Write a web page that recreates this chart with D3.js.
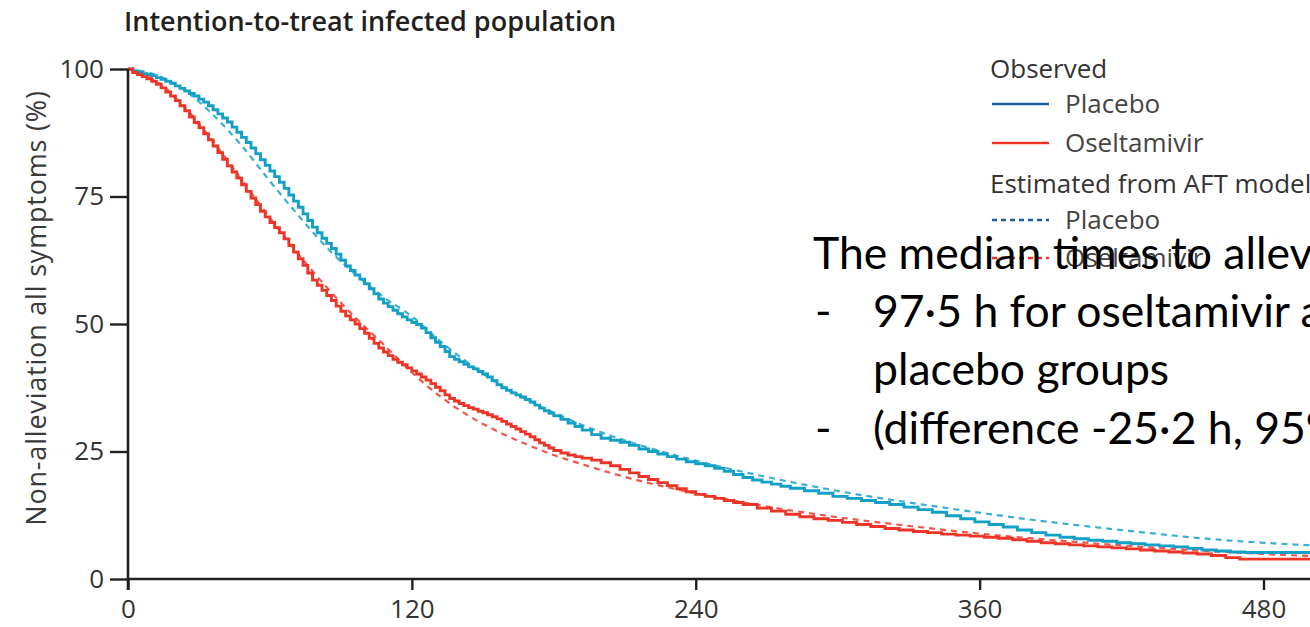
<!DOCTYPE html>
<html><head><meta charset="utf-8">
<script src="https://cdn.jsdelivr.net/npm/d3@7"></script>
<style>
html,body{margin:0;padding:0;background:#fff;overflow:hidden;}
svg{display:block;}
</style></head>
<body>
<svg id="chart" width="1310" height="627"></svg>
<script>
// ---- data (hours, % not alleviated) ----
const xTicks = [0, 120, 240, 360, 480];
const yTicks = [0, 25, 50, 75, 100];

const placeboObsH = [0,2,4,6,8,10,12,14,16,18,20,22,24,26,28,30,32,34,36,38,40,42,44,46,48,50,52,54,56,58,60,62,64,66,68,70,72,74,76,78,80,82,84,86,88,90,92,94,96,98,100,102,104,106,108,110,112,114,116,118,120,122,124,126,128,130,132,134,136,138,140,142,144,146,148,150,152,154,156,158,160,162,164,166,168,170,172,174,176,178,180,183,186,189,192,196,200,204,208,212,216,220,224,228,232,236,240,244,248,252,256,260,264,268,272,276,280,286,292,298,304,310,316,322,328,334,340,346,352,358,364,370,376,382,388,394,400,406,412,418,424,430,436,442,448,454,460,466,472,480,500];
const placeboObsV = [100,99.6,99.3,99.1,98.9,98.7,98.3,98.0,97.6,97.2,96.7,96.2,95.7,95.2,94.7,94.1,93.5,92.8,92.0,91.2,90.4,89.6,88.6,87.6,86.6,85.6,84.5,83.4,82.2,81.1,80.0,78.9,77.8,76.6,75.3,74.1,72.9,71.6,70.3,69.0,67.9,66.8,65.8,64.8,63.7,62.5,61.4,60.5,59.6,58.8,57.9,56.9,55.9,54.9,54.1,53.4,52.7,52.0,51.4,50.8,50.3,49.9,49.2,48.3,47.3,46.4,45.6,44.6,43.6,43.1,42.6,42.1,41.6,41.2,40.7,40.2,39.6,38.9,38.1,37.5,37.0,36.5,36.1,35.7,35.2,34.7,34.1,33.5,33.0,32.5,32.0,31.3,30.6,29.9,29.2,28.3,27.6,27.2,26.8,26.2,25.5,25.0,24.5,24.0,23.5,23.0,22.6,22.2,21.7,21.1,20.5,19.9,19.4,19.0,18.6,18.2,17.8,17.3,16.8,16.2,15.8,15.4,15.0,14.6,14.1,13.6,13.1,12.4,11.8,11.2,10.7,10.2,9.6,9.1,8.6,8.2,7.9,7.6,7.4,7.1,6.9,6.7,6.5,6.3,6.0,5.7,5.5,5.3,5.2,5.2,5.1];

const oseltObsH = [0,2,4,6,8,10,12,14,16,18,20,22,24,26,28,30,32,34,36,38,40,42,44,46,48,50,52,54,56,58,60,62,64,66,68,70,72,74,76,78,80,82,84,86,88,90,92,94,96,98,100,102,104,106,108,110,112,114,116,118,120,122,124,126,128,130,132,134,136,138,140,142,144,146,148,150,152,154,156,158,160,162,164,166,168,170,172,174,176,178,180,183,186,189,192,196,200,204,208,212,216,220,224,228,232,236,240,244,248,252,256,260,266,272,278,284,290,296,302,308,314,320,326,332,338,344,350,356,362,368,374,380,386,392,398,404,410,416,422,428,434,440,446,452,458,464,470,480,500];
const oseltObsV = [100,99.3,98.9,98.5,98.1,97.6,97.0,96.3,95.5,94.7,93.8,92.8,91.8,90.6,89.5,88.5,87.3,86.1,84.9,83.6,82.3,81.0,79.8,78.6,77.3,76.0,74.7,73.4,72.1,71.0,69.9,68.9,67.9,66.7,65.4,64.1,62.8,61.5,60.0,58.6,57.6,56.6,55.6,54.6,53.5,52.5,51.6,50.8,50.0,49.1,48.2,47.2,46.2,45.3,44.5,43.8,43.1,42.5,42.0,41.4,40.8,40.2,39.6,39.0,38.3,37.6,36.9,36.1,35.4,34.9,34.4,34.0,33.6,33.3,32.9,32.6,32.2,31.8,31.4,30.9,30.4,29.9,29.4,28.9,28.4,27.9,27.3,26.7,26.2,25.7,25.2,24.7,24.3,24.0,23.7,23.3,22.8,22.2,21.5,20.8,20.1,19.5,18.9,18.3,17.7,17.1,16.6,16.2,15.8,15.4,15.0,14.6,13.9,13.3,12.7,12.2,11.8,11.5,11.1,10.7,10.3,9.9,9.6,9.3,9.1,8.8,8.6,8.4,8.2,8.0,7.7,7.4,7.1,6.9,6.7,6.5,6.3,6.1,5.9,5.7,5.5,5.3,5.1,4.9,4.6,4.2,3.9,3.9,3.8];

const aftH = [0,12,24,36,48,60,72,84,96,108,120,132,144,156,168,180,192,204,216,240,264,288,312,336,360,384,408,432,456,480,500];
const placeboAftV = [100,98.8,95.8,91.0,85.0,78.0,71.3,65.0,59.8,55.3,51.5,46.6,42.3,38.4,35.3,32.6,30.2,28.1,26.3,23.2,20.6,18.3,16.3,14.6,13.0,11.5,10.2,9.0,7.9,7.1,6.6];
const oseltAftV = [100,97.6,92.5,85.8,78.3,70.8,63.7,57.2,51.3,46.0,40.5,35.8,32.0,29.0,26.5,24.3,22.5,20.8,19.3,16.8,14.7,12.9,11.4,10.1,8.9,7.9,7.0,6.2,5.5,4.9,4.5];

const legendGroups = ["Observed", "Estimated from AFT model"];
const legendSeries = ["Placebo", "Oseltamivir"];
const noteLines = [
  "The median times to alleviation of all symptoms were",
  "97·5 h for oseltamivir and 122·7 h for the",
  "placebo groups",
  "(difference -25·2 h, 95% CI -36·2 to -16·0)"
];
const noteBullets = ["", "-", "", "-"];

// ---- drawing ----
const svg = d3.select("#chart");
const ink = "#231f20";
const cPlacebo = "#12a0c6", cOselt = "#ee3427";
const cLegPlacebo = "#1c5fa6";
const chartFont = "'Open Sans', 'Noto Sans', sans-serif";

const x = d3.scaleLinear().domain([0, 500]).range([128, 128 + 500 * (1135.5 / 480)]);
const y = d3.scaleLinear().domain([0, 100]).range([579, 69]);

// title
svg.append("text").attr("x", 124).attr("y", 31)
  .attr("font-family", chartFont).attr("font-weight", 600).attr("font-size", 27)
  .attr("fill", ink).text("Intention-to-treat infected population");

// y label
svg.append("text").attr("transform", "translate(46,308) rotate(-90)")
  .attr("text-anchor", "middle").attr("font-family", chartFont)
  .attr("font-size", 27).attr("letter-spacing", 0.8).attr("fill", "#3a3a3a")
  .text("Non-alleviation all symptoms (%)");

// curves
const zip = (hs, vs) => hs.map((h, i) => [h, vs[i]]);
const stepLine = d3.line().x(d => x(d[0])).y(d => y(d[1])).curve(d3.curveStepAfter);
const smoothLine = d3.line().x(d => x(d[0])).y(d => y(d[1])).curve(d3.curveMonotoneX);

const plot = svg.append("g");
plot.append("path").datum(zip(aftH, placeboAftV)).attr("d", smoothLine)
  .attr("fill", "none").attr("stroke", "#3aaed0").attr("stroke-width", 2.2).attr("stroke-dasharray", "6,5");
plot.append("path").datum(zip(aftH, oseltAftV)).attr("d", smoothLine)
  .attr("fill", "none").attr("stroke", "#f0574c").attr("stroke-width", 2.2).attr("stroke-dasharray", "6,5");
plot.append("path").datum(zip(placeboObsH, placeboObsV)).attr("d", stepLine)
  .attr("fill", "none").attr("stroke", cPlacebo).attr("stroke-width", 2.9);
plot.append("path").datum(zip(oseltObsH, oseltObsV)).attr("d", stepLine)
  .attr("fill", "none").attr("stroke", cOselt).attr("stroke-width", 2.9);

// axes
const yAxis = d3.axisLeft(y).tickValues(yTicks).tickSize(18).tickPadding(6).tickSizeOuter(0);
const gy = svg.append("g").attr("transform", `translate(${x(0)},0)`).call(yAxis);
const xAxis = d3.axisBottom(x).tickValues(xTicks).tickSize(11).tickPadding(10).tickSizeOuter(0);
const gx = svg.append("g").attr("transform", `translate(0,${y(0)})`).call(xAxis);
[gy, gx].forEach(g => {
  g.select(".domain").attr("stroke", ink).attr("stroke-width", 2.6);
  g.selectAll(".tick line").attr("stroke", ink).attr("stroke-width", 2.4);
  g.selectAll(".tick text").attr("font-family", chartFont).attr("font-size", 26).attr("fill", "#333");
});
gy.select(".domain").attr("d", `M0,${y(100)}V${y(0) + 11}`);
gx.select(".domain").attr("d", `M${x(0)},0H1310`);

// legend
const leg = svg.append("g").attr("font-family", chartFont).attr("font-size", 26).attr("fill", "#333");
const legRowY = [69, 104, 143, 184, 220, 258];
const legItems = [
  {type: "head", label: legendGroups[0]},
  {type: "line", label: legendSeries[0], color: cLegPlacebo, dash: null},
  {type: "line", label: legendSeries[1], color: cOselt, dash: null},
  {type: "head", label: legendGroups[1]},
  {type: "line", label: legendSeries[0], color: cLegPlacebo, dash: "5,4"},
  {type: "line", label: legendSeries[1], color: cOselt, dash: "5,4"}
];
legItems.forEach((it, i) => {
  const cy = legRowY[i];
  if (it.type === "head") {
    leg.append("text").attr("x", 990).attr("y", cy).attr("dy", "0.35em").text(it.label);
  } else {
    leg.append("line").attr("x1", 992).attr("x2", 1049).attr("y1", cy).attr("y2", cy)
      .attr("stroke", it.color).attr("stroke-width", 2.6).attr("stroke-dasharray", it.dash);
    leg.append("text").attr("x", 1065).attr("y", cy).attr("dy", "0.35em").attr("fill", "#444").text(it.label);
  }
});

// overlay note
const note = svg.append("g").attr("font-family", "Lato, 'Open Sans', sans-serif").attr("font-size", 44.5).attr("fill", "#000");
const noteY = [253, 311, 369, 428];
noteLines.forEach((t, i) => {
  const tx = i === 0 ? 813 : 873;
  if (noteBullets[i]) note.append("text").attr("x", 815).attr("y", noteY[i]).attr("dy", "0.35em").text(noteBullets[i]);
  note.append("text").attr("x", tx).attr("y", noteY[i]).attr("dy", "0.35em").text(t);
});
</script>
</body></html>
